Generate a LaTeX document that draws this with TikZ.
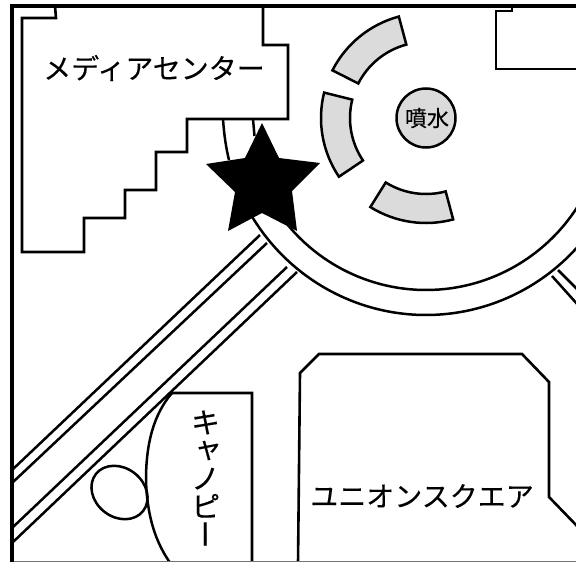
\documentclass[tikz,border=0pt]{standalone}
\usepackage{fontspec}
\usetikzlibrary{calc}
\newfontfamily\cjk[FakeBold=0.15]{Noto Sans CJK JP}
\newfontfamily\cjkv[RawFeature=+vert,FakeBold=0.15]{Noto Sans CJK JP}
\tikzset{
  wall/.style={draw=black,line width=2.6pt,line join=miter},
  road/.style={draw=black,line width=2.5pt},
  bed/.style={draw=black,line width=2.5pt,fill=black!14},
  lbl/.style={inner sep=0pt,font=\cjk\fontsize{28}{28}\selectfont}
}
\begin{document}
\begin{tikzpicture}[x=1pt,y=-1pt]
\useasboundingbox (0,0) rectangle (576,562);
\fill[white] (0,0) rectangle (576,562);
% road ring
\draw[road] (223,119) .. controls (224,134) and (226,148) .. (229,160);
\draw[road] (253,119) -- (254.5,136);
\coordinate (ringc) at (426,109);
\draw[road] ($(ringc)+(152:204 and 206)$) arc[start angle=152,end angle=40,x radius=204,y radius=206];
\draw[road] ($(ringc)+(140:180 and 181)$) arc[start angle=140,end angle=30,x radius=180,y radius=181];
% diagonals
\draw[road] (12,470) -- (260,235);
\draw[road] (12,483) -- (267,243);
\draw[road] (12,528) -- (287,267);
\draw[road] (12,543) -- (297,272);
\draw[road] (558,270) -- (578,290);
\draw[road] (552,276) -- (578,305);
% buildings
\draw[wall] (55,6) -- (56,18) -- (22,18) -- (22,252) -- (84,252) -- (84,218) -- (125,218) -- (125,190) -- (156,190) -- (156,152) -- (187,152) -- (187,119) -- (288,119) -- (288,45) -- (263,45) -- (263,6);
\draw[wall] (512,6) -- (512,11) -- (496,11) -- (496,69) -- (578,69);
\draw[wall] (298,564) -- (300,373) -- (319,354) -- (522,354) -- (549,382) -- (549,497) -- (578,527);
\draw[wall] (168,395) -- (172,393) -- (252,393) -- (252,564);
\draw[road] (172,393) .. controls (153,415) and (146,445) .. (146,480) .. controls (147,515) and (155,542) .. (171,564);
\begin{scope}[shift={(119.5,492.5)},rotate=-38]
\draw[road] (0,0) ellipse[x radius=30,y radius=24.5];
\end{scope}
% fountain
\coordinate (fc) at (426,118);
\foreach \a/\b in {153/105,166/214,238/285}{
  \draw[bed] ($(fc)+(\a:105 and -105)$) arc[start angle=-\a,end angle=-\b,radius=105]
     -- ($(fc)+(\b:76 and -76)$) arc[start angle=-\b,end angle=-\a,radius=76] -- cycle;
}
\node[circle,draw=black,line width=2.5pt,fill=black!14,minimum size=59pt,inner sep=0pt] (fountain) at (fc) {};
\node[inner sep=0pt,font=\cjk\fontsize{22}{22}\selectfont] (fountainlabel) at (427,118) {噴水};
% star
\fill[black] (262,123) -- (279,158) -- (320,163) -- (292,191) -- (297,231) -- (262,213) -- (228,231) -- (235,192) -- (206,164) -- (245,158) -- cycle;
% labels
\node[lbl] (media) at (154,68) {メディアセンター};
\node[lbl] (union) at (422,496) {ユニオンスクエア};
\node[inner sep=0pt,align=center,font=\cjkv\fontsize{29.5}{28}\selectfont] (canopy) at (205.5,478) {キ\\ャ\\ノ\\ピ\\ー};
% frame
\draw[black!55,line width=1pt] (12,561.5) -- (576,561.5);
\draw[black,line width=4pt] (12,563) -- (12,5.5) -- (576,5.5);
\end{tikzpicture}
\end{document}
